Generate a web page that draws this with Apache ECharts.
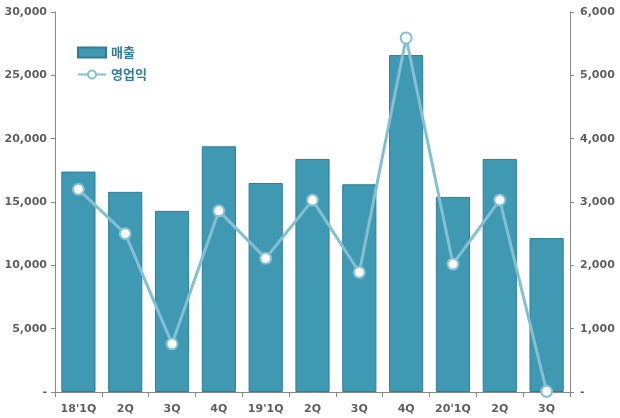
<!DOCTYPE html>
<html>
<head>
<meta charset="utf-8">
<script src="https://cdn.jsdelivr.net/npm/echarts@6/dist/echarts.min.js"></script>
<style>
  html, body { margin: 0; padding: 0; background: #fff; }
  #chart { width: 620px; height: 418px; }
</style>
</head>
<body>
<div id="chart"></div>
<script>
const categories = ["18'1Q", '2Q', '3Q', '4Q', "19'1Q", '2Q', '3Q', '4Q', "20'1Q", '2Q', '3Q'];
const sales = [17400, 15800, 14300, 19400, 16500, 18400, 16400, 26600, 15400, 18400, 12150];
const operatingProfit = [3200, 2500, 760, 2860, 2110, 3030, 1890, 5590, 2020, 3030, 10];

const labelFont = {
  color: '#5f5f5f',
  fontFamily: 'DejaVu Sans',
  fontSize: 11,
  fontWeight: 'bold'
};

const fmt = v => (v === 0 ? '-' : v.toLocaleString('en-US'));

const chart = echarts.init(document.getElementById('chart'));

const option = {
  animation: false,
  grid: { left: 55, right: 50, top: 12, bottom: 26 },
  legend: {
    orient: 'vertical',
    left: 72,
    top: 41,
    itemGap: 9,
    itemWidth: 28,
    itemHeight: 10,
    textStyle: {
      color: '#2E7F96',
      fontFamily: 'Noto Sans CJK KR',
      fontSize: 13,
      fontWeight: 'bold'
    },
    data: [
      { name: '매출', icon: 'rect' },
      { name: '영업익' }
    ]
  },
  xAxis: {
    type: 'category',
    data: categories,
    axisLine: { lineStyle: { color: '#898989' } },
    axisTick: { show: true, length: 5, lineStyle: { color: '#898989' } },
    axisLabel: Object.assign({ margin: 12 }, labelFont)
  },
  yAxis: [
    {
      type: 'value',
      min: 0,
      max: 30000,
      interval: 5000,
      splitLine: { show: false },
      axisLine: { show: true, lineStyle: { color: '#898989' } },
      axisTick: { show: true, length: 4, lineStyle: { color: '#898989' } },
      axisLabel: Object.assign({ formatter: fmt, margin: 8 }, labelFont)
    },
    {
      type: 'value',
      min: 0,
      max: 6000,
      interval: 1000,
      position: 'right',
      splitLine: { show: false },
      axisLine: { show: true, lineStyle: { color: '#898989' } },
      axisTick: { show: true, length: 4, lineStyle: { color: '#898989' } },
      axisLabel: Object.assign({ formatter: fmt, margin: 10 }, labelFont)
    }
  ],
  series: [
    {
      name: '매출',
      type: 'bar',
      data: sales,
      barCategoryGap: '27%',
      itemStyle: {
        color: '#4099B2',
        borderColor: '#2E7F96',
        borderWidth: 1
      }
    },
    {
      name: '영업익',
      type: 'line',
      yAxisIndex: 1,
      data: operatingProfit,
      symbol: 'circle',
      symbolSize: 11,
      lineStyle: { color: '#84BFD3', width: 3 },
      itemStyle: { color: '#fff', borderColor: '#84BFD3', borderWidth: 2 }
    }
  ]
};

chart.setOption(option);
</script>
</body>
</html>
